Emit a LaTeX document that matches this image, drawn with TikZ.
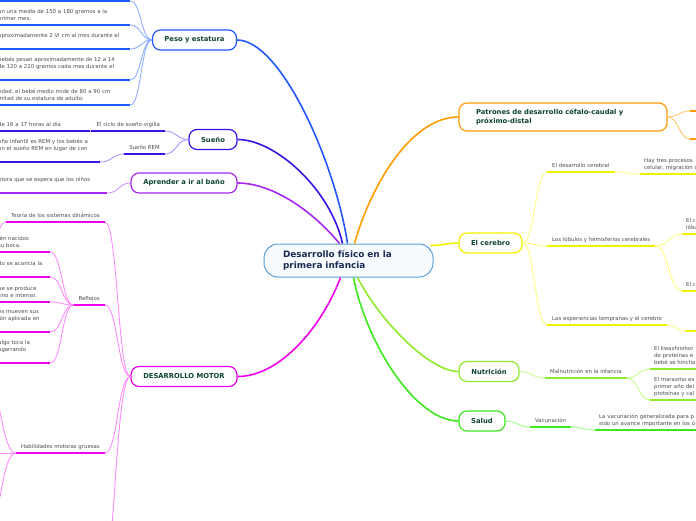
\documentclass[tikz,border=0pt]{standalone}
\usepackage{fontspec}
\setmainfont{DejaVu Sans}
\usetikzlibrary{calc}

\definecolor{cenline}{HTML}{5B9FD8}
\definecolor{cenfill}{HTML}{F7FBFE}
\definecolor{centext}{HTML}{1B2B57}
\definecolor{boxtext}{HTML}{0E4434}
\definecolor{leaftext}{HTML}{4D4D4D}
\definecolor{peso}{HTML}{2258FF}
\definecolor{pesol}{HTML}{8CAEFF}
\definecolor{sueno}{HTML}{3A12E6}
\definecolor{suenol}{HTML}{A898FF}
\definecolor{bano}{HTML}{A626F2}
\definecolor{banol}{HTML}{D494FF}
\definecolor{motor}{HTML}{EE00EE}
\definecolor{motorl}{HTML}{FF8CFF}
\definecolor{patron}{HTML}{FF9C00}
\definecolor{patronl}{HTML}{FFC66E}
\definecolor{cerebro}{HTML}{F2F200}
\definecolor{cerebrol}{HTML}{FFFF80}
\definecolor{nutri}{HTML}{8EEA2A}
\definecolor{nutril}{HTML}{C2FF8C}
\definecolor{salud}{HTML}{3CEA1C}
\definecolor{saludl}{HTML}{9CFF86}

\begin{document}
\begin{tikzpicture}[x=1pt, y=-1pt,
  topic/.style={rectangle, draw=#1, line width=1.2pt, rounded corners=8pt,
                fill=white, minimum height=20pt, inner sep=0pt, text=boxtext,
                font=\fontsize{6.8}{8.4}\selectfont\bfseries},
  sub/.style={inner xsep=5pt, inner ysep=2pt, text=leaftext,
              font=\fontsize{5.4}{7}\selectfont, execute at end node=\strut,
              append after command={(\tikzlastnode.south west)
                edge[draw=#1, line width=1.8pt] (\tikzlastnode.south east)}},
  leaf/.style 2 args={sub=#2, inner xsep=4pt, text width=#1, align=left},
  lk/.style={draw=#1, line width=0.9pt},
  br/.style={draw=#1, line width=1.6pt},
  mm/.style={to path={.. controls ($(\tikztostart)!0.5!(\tikztotarget |- \tikztostart)$)
                      and ($(\tikztotarget)!0.5!(\tikztostart |- \tikztotarget)$) .. (\tikztotarget)}},
]
\useasboundingbox (0,0) rectangle (696,520);

% centre
\node[draw=cenline, line width=1pt, rounded corners=14pt, fill=cenfill,
      minimum width=169pt, minimum height=33pt, text width=131pt, align=left,
      font=\fontsize{8.9}{11}\selectfont\bfseries, text=centext]
      (centro) at (348.5,260.5) {Desarrollo físico en la\\primera infancia};

% topics
\node[topic=peso, minimum width=84pt] (peso) at (194.5,40) {Peso y estatura};
\node[topic=sueno, minimum width=48pt] (sueno) at (213,139.5) {Sueño};
\node[topic=bano, minimum width=106pt] (bano) at (184,183) {Aprender a ir al baño};
\node[topic=motor, minimum width=106pt] (motor) at (184,376.5) {DESARROLLO MOTOR};
\node[topic=patron, minimum width=208pt, minimum height=28pt, text width=174pt,
      align=left] (patron) at (563,117) {Patrones de desarrollo céfalo-caudal y\\próximo-distal};
\node[topic=cerebro, minimum width=63pt] (cerebro) at (490.5,243) {El cerebro};
\node[topic=nutri, minimum width=60pt] (nutri) at (489,371.5) {Nutrición};
\node[topic=salud, minimum width=46pt] (salud) at (482,421) {Salud};

\draw[br=peso] ([xshift=-1pt]centro.north) .. controls +(-12,-80) and +(44,0) .. (peso.east);
\draw[br=sueno] ([xshift=-6pt]centro.north) .. controls +(-12,-54) and +(38,0) .. (sueno.east);
\draw[br=bano] ([xshift=-9pt]centro.north) .. controls +(-29,-35) and +(33,0) .. (bano.east);
\draw[br=patron] ([xshift=6pt]centro.north) .. controls +(15,-54) and +(-49,0) .. (patron.west);
\draw[br=motor] ([xshift=-8pt]centro.south) .. controls +(-18,48) and +(43,0) .. (motor.east);
\draw[br=nutri] ([xshift=9pt]centro.south) .. controls +(22,43) and +(-29,0) .. (nutri.west);
\draw[br=salud] ([xshift=5pt]centro.south) .. controls +(12,63) and +(-44,0) .. (salud.west);
\draw[br=cerebro] ([xshift=-3pt,yshift=-2pt]centro.north east) to[out=0,in=180] (cerebro.west);

% Peso y estatura
\node[leaf={128pt}{peso}, anchor=south west] (pe0) at (-6,1) {};
\node[leaf={128pt}{peso}, anchor=south west] (pe1) at (-6,25) {an una media de 150 a 180 gramos a la\\primer mes.};
\node[leaf={128pt}{peso}, anchor=south west] (pe2) at (-6,49) {aproximadamente 2 Vi cm al mes durante el\\\mbox{}};
\node[leaf={128pt}{peso}, anchor=south west] (pe3) at (-6,80) {bebés pesan aproximadamente de 12 a 14\\de 120 a 220 gramos cada mes durante el\\\mbox{}};
\node[leaf={128pt}{peso}, anchor=south west] (pe4) at (-6,105) {edad, el bebé medio mide de 80 a 90 cm\\mitad de su estatura de adulto.};
\draw[lk=pesol] (peso.west) to[mm] (pe0.south east);
\draw[lk=pesol] (peso.west) to[mm] (pe1.south east);
\draw[lk=pesol] (peso.west) to[mm] (pe2.south east);
\draw[lk=pesol] (peso.west) to[mm] (pe3.south east);
\draw[lk=pesol] (peso.west) to[mm] (pe4.south east);

% Sueño
\node[sub=sueno, anchor=south east] (ciclo) at (165,131) {El ciclo de sueño-vigilia};
\node[sub=sueno, anchor=south east] (rem) at (165,154) {Sueño REM};
\node[leaf={88pt}{sueno}, anchor=south west] (ciclo1) at (-6,131) {de 16 a 17 horas al día};
\node[leaf={98pt}{sueno}, anchor=south west] (rem1) at (-6,162) {eño infantil es REM y los bebés a\\on el sueño REM en lugar de con\\\mbox{}};
\draw[lk=suenol] (sueno.west) to[mm] (ciclo.south east);
\draw[lk=suenol] (sueno.west) to[mm] (rem.south east);
\draw[lk=suenol] (ciclo.south west) to[mm] (ciclo1.south east);
\draw[lk=suenol] (rem.south west) to[mm] (rem1.south east);

% Aprender a ir al baño
\node[leaf={105pt}{bano}, anchor=south west] (bano1) at (-6,193) {otora que se espera que los niños\\\mbox{}};
\draw[lk=banol] (bano.west) to[mm] (bano1.south east);

% Desarrollo motor
\node[sub=motor, anchor=south east] (teoria) at (105,222) {Teoría de los sistemas dinámicos};
\node[sub=motor, anchor=south east] (reflejos) at (105,305) {Reflejos};
\node[sub=motor, anchor=south east] (gruesas) at (105,453) {Habilidades motoras gruesas};
\node[leaf={40pt}{motor}, anchor=south east] (motor4) at (99,600) {};
\node[leaf={40pt}{motor}, anchor=south east] (teoria1) at (-12,250) {};
\node[leaf={48pt}{motor}, anchor=south west] (ref1) at (-6,252) {ién nacidos\\su boca.};
\node[leaf={48pt}{motor}, anchor=south west] (ref2) at (-6,277) {do se acaricia la\\\mbox{}};
\node[leaf={48pt}{motor}, anchor=south west] (ref3) at (-6,302) {ue se produce\\tino e intenso.};
\node[leaf={48pt}{motor}, anchor=south west] (ref4) at (-6,332) {és mueven sus\\ión aplicada en\\\mbox{}};
\node[leaf={48pt}{motor}, anchor=south west] (ref5) at (-6,363) {algo toca la\\agarrando\\\mbox{}};
\node[leaf={40pt}{motor}, anchor=south east] (gru1) at (-14,380) {};
\node[leaf={40pt}{motor}, anchor=south east] (gru2) at (-14,453) {};
\node[leaf={40pt}{motor}, anchor=south east] (gru3) at (-14,530) {};
\draw[lk=motorl] (motor.west) to[mm] (teoria.south east);
\draw[lk=motorl] (motor.west) to[mm] (reflejos.south east);
\draw[lk=motorl] (motor.west) to[mm] (gruesas.south east);
\draw[lk=motorl] (motor.west) to[mm] (motor4.south east);
\draw[lk=motorl] (teoria.south west) to[mm] (teoria1.south east);
\draw[lk=motorl] (reflejos.south west) to[mm] (ref1.south east);
\draw[lk=motorl] (reflejos.south west) to[mm] (ref2.south east);
\draw[lk=motorl] (reflejos.south west) to[mm] (ref3.south east);
\draw[lk=motorl] (reflejos.south west) to[mm] (ref4.south east);
\draw[lk=motorl] (reflejos.south west) to[mm] (ref5.south east);
\draw[lk=motorl] (gruesas.south west) to[mm] (gru1.south east);
\draw[lk=motorl] (gruesas.south west) to[mm] (gru2.south east);
\draw[lk=motorl] (gruesas.south west) to[mm] (gru3.south east);

% Patrones
\node[leaf={40pt}{patron}, anchor=south west] (pat1) at (690,111) {};
\node[leaf={40pt}{patron}, anchor=south west] (pat2) at (690,139) {};
\draw[lk=patronl] (patron.east) to[mm] (pat1.south west);
\draw[lk=patronl] (patron.east) to[mm] (pat2.south west);

% El cerebro
\node[sub=cerebro, anchor=south west] (desa) at (547,172) {El desarrollo cerebral};
\node[sub=cerebro, anchor=south west] (lobulos) at (547,246) {Los lóbulos y hemisferios cerebrales};
\node[sub=cerebro, anchor=south west] (exper) at (547,325) {Las experiencias tempranas y el cerebro};
\node[leaf={100pt}{cerebro}, anchor=south west] (desa1) at (640,174) {Hay tres procesos\\celular, migración c};
\node[leaf={40pt}{cerebro}, anchor=south west] (lob1) at (682,234) {El c\\lóbu};
\node[leaf={40pt}{cerebro}, anchor=south west] (lob2) at (682,291) {El c};
\node[leaf={40pt}{cerebro}, anchor=south west] (exper1) at (686,331) {};
\draw[lk=cerebrol] (cerebro.east) to[mm] (desa.south west);
\draw[lk=cerebrol] (cerebro.east) to[mm] (lobulos.south west);
\draw[lk=cerebrol] (cerebro.east) to[mm] (exper.south west);
\draw[lk=cerebrol] (desa.south east) to[mm] (desa1.south west);
\draw[lk=cerebrol] (lobulos.south east) to[mm] (lob1.south west);
\draw[lk=cerebrol] (lobulos.south east) to[mm] (lob2.south west);
\draw[lk=cerebrol] (exper.south east) to[mm] (exper1.south west);

% Nutrición
\node[sub=nutri, anchor=south west] (malnu) at (545,378) {Malnutrición en la infancia};
\node[leaf={60pt}{nutri}, anchor=south west] (malnu1) at (650,369) {El kwashiorkor\\de proteínas e\\bebé se hincha};
\node[leaf={60pt}{nutri}, anchor=south west] (malnu2) at (650,400) {El marasmo es\\primer año del\\proteínas y cal};
\draw[lk=nutril] (nutri.east) to[mm] (malnu.south west);
\draw[lk=nutril] (malnu.south east) to[mm] (malnu1.south west);
\draw[lk=nutril] (malnu.south east) to[mm] (malnu2.south west);

% Salud
\node[sub=salud, anchor=south west] (vacu) at (530,427) {Vacunación};
\node[leaf={140pt}{salud}, anchor=south west] (vacu1) at (595,430) {La vacunación generalizada para p\\sido un avance importante en los ú};
\draw[lk=saludl] (salud.east) to[mm] (vacu.south west);
\draw[lk=saludl] (vacu.south east) to[mm] (vacu1.south west);
\end{tikzpicture}
\end{document}
